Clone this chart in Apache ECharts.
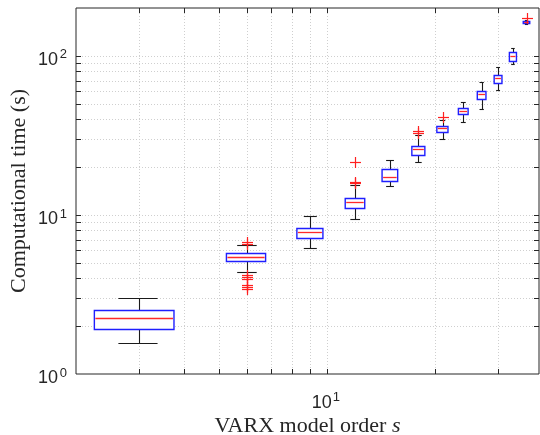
<!DOCTYPE html>
<html>
<head>
<meta charset="utf-8">
<script src="https://cdn.jsdelivr.net/npm/echarts@6/dist/echarts.min.js"></script>
<style>
html,body{margin:0;padding:0;background:#fff;}
#chart{width:540px;height:435px;}
</style>
</head>
<body>
<div id="chart"></div>
<script>
// ---- data ----
const modelOrders  = [3, 6, 9, 12, 15, 18, 21, 24, 27, 30, 33, 36];
const whiskerLow   = [1.57, 4.35, 6.24, 9.45, 15.3, 21.6, 30.1, 38.6, 46.4, 61.1, 88.5, 157.9];
const quartile1    = [1.93, 5.15, 7.13, 11.04, 16.3, 23.8, 33.4, 43.0, 53.4, 67.9, 93.0, 160.2];
const medianTime   = [2.24, 5.46, 7.78, 12.14, 17.35, 25.9, 35.1, 45.3, 57.4, 72.3, 100, 163.2];
const quartile3    = [2.52, 5.75, 8.26, 12.86, 19.4, 27.3, 36.4, 47.3, 60.4, 75.9, 105.4, 166.3];
const whiskerHigh  = [3.0, 6.45, 9.87, 15.45, 22.2, 31.8, 39.6, 51.6, 68.9, 85.5, 112.7, 168.8];
const outlierOrder = [6, 6, 6, 6, 6, 6, 6, 6, 12, 12, 12, 18, 18, 21, 36];
const outlierTime  = [6.75, 6.55, 4.20, 4.07, 3.97, 3.64, 3.53, 3.42, 21.6, 16.1, 15.8, 33.8, 32.9, 41.1, 174];
const xGridTicks   = [3, 4, 5, 6, 7, 8, 9, 10, 20, 30];
const yGridTicks   = [2, 3, 4, 5, 6, 7, 8, 9, 10, 20, 30, 40, 50, 60, 70, 80, 90, 100];
const xTickLabels  = [{value: 10, base: '10', exp: '1'}];
const yTickLabels  = [{value: 1, base: '10', exp: '0'}, {value: 10, base: '10', exp: '1'}, {value: 100, base: '10', exp: '2'}];
const xRange = [2, 39];
const yRange = [1, 200];

// ---- styles ----
const axisColor = '#262626';
const gridColor = '#cfcfcf';
const boxHalf = 0.75, capHalf = 0.375, tickLen = 5;

function crisp(v){ return Math.round(v) + 0.5; }

const chart = echarts.init(document.getElementById('chart'), null, {renderer: 'canvas'});

const boxData = modelOrders.map((x, i) => [x, whiskerLow[i], quartile1[i], medianTime[i], quartile3[i], whiskerHigh[i]]);
const outlierData = outlierOrder.map((x, i) => [x, outlierTime[i]]);

const option = {
  animation: false,
  backgroundColor: '#fff',
  grid: {left: 76, right: 1, top: 8, bottom: 61, containLabel: false, outerBoundsMode: 'none',
         show: true, borderColor: axisColor, borderWidth: 1, backgroundColor: 'transparent', z: 5},
  xAxis: {
    type: 'log', min: xRange[0], max: xRange[1], logBase: 10,
    axisLine: {show: false}, axisTick: {show: false}, axisLabel: {show: false}, splitLine: {show: false},
    name: 'VARX model order {i|s}', nameLocation: 'middle', nameGap: 41,
    nameTextStyle: {fontFamily: 'Liberation Serif', fontSize: 22, color: axisColor,
      rich: {i: {fontFamily: 'Liberation Serif', fontSize: 22, fontStyle: 'italic', color: axisColor}}}
  },
  yAxis: {
    type: 'log', min: yRange[0], max: yRange[1], logBase: 10,
    axisLine: {show: false}, axisTick: {show: false}, axisLabel: {show: false}, splitLine: {show: false},
    name: 'Computational time (s)', nameLocation: 'middle', nameGap: 46,
    nameTextStyle: {fontFamily: 'Liberation Serif', fontSize: 22, color: axisColor}
  },
  series: [
    { // vertical grid lines + x ticks
      type: 'custom', z: 1, silent: true,
      data: xGridTicks.map(v => [v, yRange[0]]),
      encode: {x: 0, y: 1},
      renderItem: function(params, api){
        const v = api.value(0);
        const b = api.coord([v, yRange[0]]), t = api.coord([v, yRange[1]]);
        const x = crisp(b[0]);
        return {type: 'group', children: [
          {type: 'line', shape: {x1: x, y1: b[1], x2: x, y2: t[1]}, style: {stroke: gridColor, lineWidth: 1, lineDash: [1, 2]}},
          {type: 'line', shape: {x1: x, y1: b[1], x2: x, y2: b[1] - tickLen}, style: {stroke: axisColor, lineWidth: 1}},
          {type: 'line', shape: {x1: x, y1: t[1], x2: x, y2: t[1] + tickLen}, style: {stroke: axisColor, lineWidth: 1}}
        ]};
      }
    },
    { // horizontal grid lines + y ticks
      type: 'custom', z: 1, silent: true,
      data: yGridTicks.map(v => [xRange[0], v]),
      encode: {x: 0, y: 1},
      renderItem: function(params, api){
        const v = api.value(1);
        const l = api.coord([xRange[0], v]), r = api.coord([xRange[1], v]);
        const y = crisp(l[1]);
        return {type: 'group', children: [
          {type: 'line', shape: {x1: l[0], y1: y, x2: r[0], y2: y}, style: {stroke: gridColor, lineWidth: 1, lineDash: [1, 2]}},
          {type: 'line', shape: {x1: l[0], y1: y, x2: l[0] + tickLen, y2: y}, style: {stroke: axisColor, lineWidth: 1}},
          {type: 'line', shape: {x1: r[0], y1: y, x2: r[0] - tickLen, y2: y}, style: {stroke: axisColor, lineWidth: 1}}
        ]};
      }
    },
    { // x tick labels
      type: 'custom', z: 6, silent: true,
      data: xTickLabels.map(d => [d.value, yRange[0]]),
      encode: {x: 0, y: 1},
      renderItem: function(params, api){
        const d = xTickLabels[params.dataIndex];
        const p = api.coord([d.value, yRange[0]]);
        return {type: 'group', children: [
          {type: 'text', style: {text: d.base, x: p[0] + 5, y: p[1] + 29, align: 'right', verticalAlign: 'middle', fontFamily: 'Liberation Sans', fontSize: 18, fill: axisColor}},
          {type: 'text', style: {text: d.exp, x: p[0] + 6, y: p[1] + 23, align: 'left', verticalAlign: 'middle', fontFamily: 'Liberation Sans', fontSize: 13, fill: axisColor}}
        ]};
      }
    },
    { // y tick labels
      type: 'custom', z: 6, silent: true,
      data: yTickLabels.map(d => [xRange[0], d.value]),
      encode: {x: 0, y: 1},
      renderItem: function(params, api){
        const d = yTickLabels[params.dataIndex];
        const p = api.coord([xRange[0], d.value]);
        return {type: 'group', children: [
          {type: 'text', style: {text: d.base, x: p[0] - 18, y: p[1] + 4, align: 'right', verticalAlign: 'middle', fontFamily: 'Liberation Sans', fontSize: 18, fill: axisColor}},
          {type: 'text', style: {text: d.exp, x: p[0] - 9, y: p[1] - 1, align: 'right', verticalAlign: 'middle', fontFamily: 'Liberation Sans', fontSize: 13, fill: axisColor}}
        ]};
      }
    },
    { // box plots
      type: 'custom', z: 3, silent: true,
      data: boxData,
      encode: {x: 0, y: [1, 2, 3, 4, 5]},
      renderItem: function(params, api){
        const x = api.value(0);
        const lo = api.value(1), q1 = api.value(2), md = api.value(3), q3 = api.value(4), hi = api.value(5);
        const c = api.coord([x, md]);
        const xl = api.coord([x - boxHalf, md])[0], xr = api.coord([x + boxHalf, md])[0];
        const cl = api.coord([x - capHalf, md])[0], cr = api.coord([x + capHalf, md])[0];
        const yLo = crisp(api.coord([x, lo])[1]), yQ1 = crisp(api.coord([x, q1])[1]);
        const yMd = crisp(c[1]), yQ3 = crisp(api.coord([x, q3])[1]), yHi = crisp(api.coord([x, hi])[1]);
        const cx = crisp(c[0]);
        const black = {stroke: '#1a1a1a', lineWidth: 1.1};
        return {type: 'group', children: [
          {type: 'line', shape: {x1: cx, y1: yQ3, x2: cx, y2: yHi}, style: black},
          {type: 'line', shape: {x1: cx, y1: yQ1, x2: cx, y2: yLo}, style: black},
          {type: 'line', shape: {x1: cl, y1: yHi, x2: cr, y2: yHi}, style: black},
          {type: 'line', shape: {x1: cl, y1: yLo, x2: cr, y2: yLo}, style: black},
          {type: 'polygon', shape: {points: [[xl, yQ3], [xr, yQ3], [xr, yQ1], [xl, yQ1]]}, style: {fill: '#ffffff', stroke: '#1f1fff', lineWidth: 1.4}},
          {type: 'line', shape: {x1: xl + 1, y1: yMd, x2: xr - 1, y2: yMd}, style: {stroke: '#ff2a2a', lineWidth: 1.3}}
        ]};
      }
    },
    { // outliers as red '+'
      type: 'custom', z: 4, silent: true,
      data: outlierData,
      encode: {x: 0, y: 1},
      renderItem: function(params, api){
        const p = api.coord([api.value(0), api.value(1)]);
        const x = crisp(p[0]), y = crisp(p[1]), h = 5.5;
        const red = {stroke: '#ff2020', lineWidth: 1.2};
        return {type: 'group', children: [
          {type: 'line', shape: {x1: x - h, y1: y, x2: x + h, y2: y}, style: red},
          {type: 'line', shape: {x1: x, y1: y - h, x2: x, y2: y + h}, style: red}
        ]};
      }
    }
  ]
};
chart.setOption(option);
</script>
</body>
</html>
